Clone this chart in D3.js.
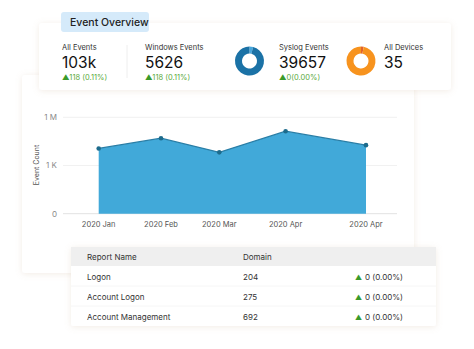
<!DOCTYPE html>
<html><head><meta charset="utf-8">
<script src="https://cdn.jsdelivr.net/npm/d3@7"></script>
<style>
html,body{margin:0;padding:0;background:#fff;}
svg{display:block;font-family:Inter,"Noto Sans",sans-serif;}
</style></head>
<body><svg id="c" width="474" height="349"></svg>
<script>
// ---- data ----
const months = ["2020-01-01","2020-02-01","2020-03-01","2020-04-03","2020-05-13"];
const monthLabels = ["2020 Jan","2020 Feb","2020 Mar","2020 Apr","2020 Apr"];
const eventCounts = [11500, 50000, 6600, 136000, 18500];
const yTickValues = [0, 1000, 1000000];
const yTickLabels = ["0","1 K","1 M"];

const kpiLabels = ["All Events","Windows Events","Syslog Events","All Devices"];
const kpiValues = ["103k","5626","39657","35"];
const kpiDeltas = ["118 (0.11%)","118 (0.11%)","0(0.00%)",""];
const syslogDonut = [96, 4];
const deviceDonut = [97, 3];

const reportNames = ["Logon","Account Logon","Account Management"];
const reportDomain = [204, 275, 692];
const reportDelta = ["0 (0.00%)","0 (0.00%)","0 (0.00%)"];

const svg = d3.select("#c");
const defs = svg.append("defs");
const f = defs.append("filter").attr("id","sh").attr("x","-10%").attr("y","-20%").attr("width","120%").attr("height","150%");
f.append("feDropShadow").attr("dx",0).attr("dy",1).attr("stdDeviation",3).attr("flood-color","#c8a888").attr("flood-opacity",0.22);

// ---- chart card (back) ----
svg.append("rect").attr("x",22).attr("y",75).attr("width",392).attr("height",198).attr("rx",3)
  .attr("fill","#fff").attr("filter","url(#sh)");

const x = d3.scaleTime().domain([new Date(months[0]), new Date(months[4])]).range([98.7, 366]);
const y = d3.scaleSymlog().constant(1).domain([0, 1000000]).range([213.7, 117.3]);
const data = months.map((m,i)=>({d:new Date(m), v:eventCounts[i]}));

const g = svg.append("g");
g.selectAll("line.grid").data(yTickValues).join("line")
  .attr("x1",63).attr("x2",397).attr("y1",d=>y(d)).attr("y2",d=>y(d))
  .attr("stroke",d=>d===0?"#e2e2e2":"#f1f1f1").attr("stroke-width",1);
g.selectAll("text.yt").data(yTickValues).join("text")
  .attr("x",57).attr("y",d=>y(d)).attr("dy","0.35em").attr("text-anchor","end")
  .attr("font-size",8).attr("fill","#8a8a8a").text((d,i)=>yTickLabels[i]);
g.append("text").attr("transform","translate(39,165) rotate(-90)").attr("text-anchor","middle")
  .attr("font-size",7).attr("fill","#555").text("Event Count");

g.append("path").datum(data)
  .attr("d", d3.area().x(d=>x(d.d)).y0(y(0)).y1(d=>y(d.v)))
  .attr("fill","#41a9d9");
g.append("path").datum(data)
  .attr("d", d3.line().x(d=>x(d.d)).y(d=>y(d.v)))
  .attr("fill","none").attr("stroke","#2a7ea6").attr("stroke-width",1.2);
g.selectAll("circle").data(data).join("circle")
  .attr("cx",d=>x(d.d)).attr("cy",d=>y(d.v)).attr("r",2.3).attr("fill","#1d6b8c");
g.selectAll("text.xt").data(data).join("text")
  .attr("x",d=>x(d.d)).attr("y",227).attr("text-anchor","middle")
  .attr("font-size",7.5).attr("fill","#555").text((d,i)=>monthLabels[i]);

// ---- top KPI card ----
svg.append("rect").attr("x",39).attr("y",23).attr("width",412).attr("height",67).attr("rx",3)
  .attr("fill","#fff").attr("filter","url(#sh)");
svg.append("rect").attr("x",61).attr("y",12).attr("width",88).attr("height",20).attr("rx",3).attr("fill","#d5eafa");
svg.append("text").attr("x",70).attr("y",26).attr("font-size",10.5).attr("font-weight",500).attr("fill","#222").text("Event Overview");

const kx = [62, 145, 279, 384];
kpiLabels.forEach((l,i)=>{
  svg.append("text").attr("x",kx[i]).attr("y",50).attr("font-size",7.5).attr("fill","#333").text(l);
  svg.append("text").attr("x",kx[i]).attr("y",67.5).attr("font-size",15.5).attr("fill","#111").text(kpiValues[i]);
  if (kpiDeltas[i]) {
    const t = svg.append("text").attr("x",kx[i]).attr("y",79.5).attr("font-size",7.5).attr("fill","#5aaa3c");
    t.append("tspan").attr("fill","#3a9a2a").text("▲");
    t.append("tspan").text(kpiDeltas[i]);
  }
});
svg.append("line").attr("x1",127).attr("x2",127).attr("y1",45).attr("y2",78).attr("stroke","#eee");

const pie = d3.pie().sort(null);
const arc = d3.arc().innerRadius(7.5).outerRadius(14.5);
function donut(cx, vals, colors){
  const gg = svg.append("g").attr("transform",`translate(${cx},61)`);
  gg.selectAll("path").data(pie(vals.slice().reverse())).join("path")
    .attr("d",arc).attr("fill",(d,i)=>colors[i]);
}
donut(249.5, syslogDonut, ["#47a6dc","#1b72a6"]);
donut(361, deviceDonut, ["#e2622a","#f7931e"]);

// ---- table ----
const tx0 = 71, tw = 365, ty0 = 247;
svg.append("rect").attr("x",tx0).attr("y",ty0).attr("width",tw).attr("height",79).attr("rx",2)
  .attr("fill","#fff").attr("filter","url(#sh)");
svg.append("rect").attr("x",tx0).attr("y",ty0).attr("width",tw).attr("height",19).attr("fill","#efefef");
svg.append("text").attr("x",87).attr("y",260).attr("font-size",8).attr("fill","#333").text("Report Name");
svg.append("text").attr("x",243).attr("y",260).attr("font-size",8).attr("fill","#333").text("Domain");
reportNames.forEach((n,i)=>{
  const yy = 279.5 + i*20;
  svg.append("text").attr("x",87).attr("y",yy).attr("font-size",8).attr("fill","#333").text(n);
  svg.append("text").attr("x",243).attr("y",yy).attr("font-size",8).attr("fill","#333").text(reportDomain[i]);
  svg.append("text").attr("x",355).attr("y",yy).attr("font-size",7).attr("fill","#3a9a2a").text("▲");
  svg.append("text").attr("x",365).attr("y",yy).attr("font-size",8).attr("fill","#333").text(reportDelta[i]);
  if (i>0) svg.append("line").attr("x1",tx0).attr("x2",tx0+tw).attr("y1",ty0+19+i*20).attr("y2",ty0+19+i*20).attr("stroke","#f6f6f6");
});
</script></body></html>
